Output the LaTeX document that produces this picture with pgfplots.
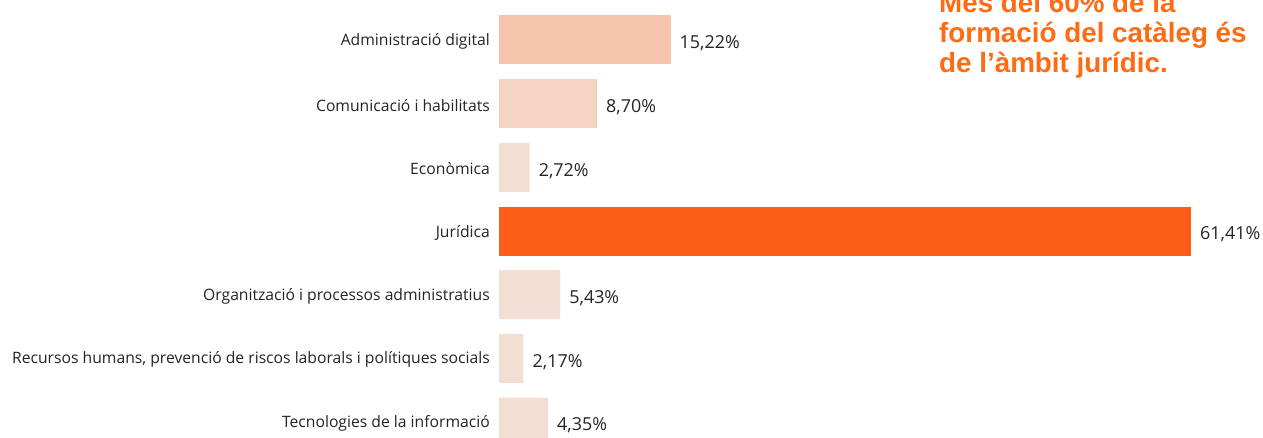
\documentclass[border=0pt]{standalone}
\usepackage{fontspec}
\setmainfont{Open Sans}
\newfontfamily\titlefont{Liberation Sans}
\usepackage{pgfplots}
\pgfplotsset{compat=1.18}
\definecolor{txt}{HTML}{252423}
\definecolor{cA}{HTML}{F4C4AC}
\definecolor{cB}{HTML}{F4D5C4}
\definecolor{cC}{HTML}{F2DED3}
\definecolor{cJ}{HTML}{FD5E17}
\definecolor{ttl}{HTML}{FF6A13}
\begin{document}
\begin{tikzpicture}[x=1pt,y=1pt]
\useasboundingbox (0,0) rectangle (1263,437);
\begin{axis}[
  at={(499pt,437pt)}, anchor=north west,
  scale only axis, width=764pt, height=437pt,
  xbar, bar width=49pt, bar shift=0pt,
  xmin=0, xmax=67.80,
  ymin=-0.628, ymax=6.235, y dir=reverse,
  axis line style={draw=none},
  major tick length=0pt,
  xtick=\empty,
  ytick={0,1,2,3,4,5,6},
  yticklabels={Administració digital,Comunicació i habilitats,Econòmica,Jurídica,Organització i processos administratius,{Recursos humans, prevenció de riscos laborals i polítiques socials},Tecnologies de la informació},
  yticklabel style={font=\fontsize{15.7}{18}\selectfont, text=txt, inner sep=0pt, xshift=-9pt, yshift=-1.5pt},
  nodes near coords={\pgfmathprintnumber[fixed,fixed zerofill,precision=2,use comma,assume math mode=true]{\pgfplotspointmeta}\%},
  nodes near coords style={font=\fontsize{17.9}{20}\selectfont, text=txt, anchor=west, inner sep=0pt, xshift=9pt, yshift=-3.5pt},
  point meta=explicit,
]
\addplot[fill=cA, draw=none] coordinates {(15.22,0) [15.22]};
\addplot[fill=cB, draw=none] coordinates {(8.70,1) [8.70]};
\addplot[fill=cC, draw=none] coordinates {(2.72,2) [2.72] (5.43,4) [5.43] (2.17,5) [2.17] (4.35,6) [4.35]};
\addplot[fill=cJ, draw=none] coordinates {(61.41,3) [61.41]};
\end{axis}
\node[anchor=base west, inner sep=0pt, text=ttl, font=\titlefont\bfseries\fontsize{27.8}{30}\selectfont] at (939,437-13) {Més del 60\% de la};
\node[anchor=base west, inner sep=0pt, text=ttl, font=\titlefont\bfseries\fontsize{27.8}{30}\selectfont] at (939,437-43) {formació del catàleg és};
\node[anchor=base west, inner sep=0pt, text=ttl, font=\titlefont\bfseries\fontsize{27.8}{30}\selectfont] at (939,437-73) {de l’àmbit jurídic.};
\end{tikzpicture}
\end{document}
